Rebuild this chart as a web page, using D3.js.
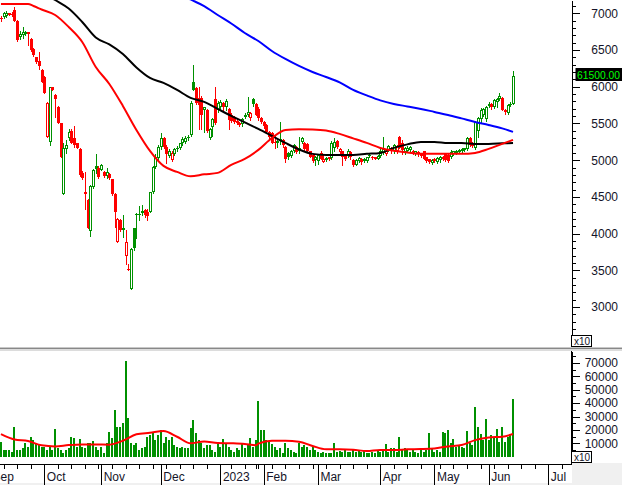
<!DOCTYPE html>
<html><head><meta charset="utf-8">
<script src="https://cdn.jsdelivr.net/npm/d3@7"></script>
<style>
html,body{margin:0;padding:0;background:#fff;}
svg{display:block;font-family:"Liberation Sans",Arial,sans-serif;}
</style></head><body>
<svg id="chart" width="622" height="485"></svg>
<script>
// ---------- categories ----------
const calendarStart = "2022-09-05";          // first trading day of the Sep label (index -4)
const firstIndexOffset = -4;                 // candle 0 = 2022-09-09
const holidays = ["2023-01-02","2023-01-20","2023-01-23","2023-01-24","2023-01-25","2023-01-26","2023-05-01","2023-05-02","2023-05-03"];
const monthNames = ["Sep","Oct","Nov","Dec","2023","Feb","Mar","Apr","May","Jun","Jul"];

// ---------- price series (x10) ----------
const open = [6930,6950,6960,6980,6970,7040,6900,6680,6700,6720,6740,6650,6520,6400,6350,6230,6130,5320,5250,5990,
5890,5720,5500,4540,5150,5300,5400,5300,5230,5150,4820,4560,4460,4030,4640,4920,4900,4870,4840,4780,
4810,4740,4540,3890,4190,4050,3700,3520,3250,4070,4270,4250,4280,4320,4300,4300,4560,4910,5030,5180,
5300,5180,5060,5000,5090,5150,5170,5230,5250,5300,5340,6060,5980,5850,5850,5680,5690,5300,5450,5830,
5680,5730,5780,5720,5700,5620,5590,5530,5510,5490,5590,5620,5570,5830,5760,5700,5580,5520,5480,5390,
5370,5250,5230,5260,5280,5180,5100,5060,5130,5180,5120,5250,5240,5220,5120,5070,5000,4990,5100,4980,
5000,5040,5030,5170,5260,5110,5120,5060,5060,5110,5000,4940,4990,5020,4990,4990,5060,5040,5040,5020,
5060,5100,5080,5140,5170,5120,5120,5320,5230,5110,5130,5140,5130,5080,5110,5080,5120,5040,5010,4960,
5010,4970,5000,5050,5090,5070,5040,5080,5100,5110,5120,5140,5150,5300,5240,5170,5400,5560,5620,5560,
5740,5760,5720,5790,5830,5850,5690,5640,5750,5770];
const high = [6960,7020,7030,7010,7020,7090,6910,6760,6810,6760,6750,6660,6530,6410,6470,6240,6140,5790,6000,6000,
5900,5740,5510,5230,5280,5420,5420,5460,5240,5170,4850,4840,4470,4660,4880,5080,4920,4950,4850,4900,
4830,4750,4550,4210,4200,4260,4050,3590,3800,4080,4280,4380,4390,4330,4340,4570,4920,5080,5200,5370,
5310,5200,5150,5120,5170,5190,5240,5310,5330,5340,5800,6300,6000,5990,5870,5730,5700,5440,5570,5990,
5800,5820,5790,5830,5710,5640,5600,5560,5520,5580,5640,5860,5660,5840,5780,5720,5590,5530,5490,5400,
5380,5340,5280,5520,5290,5190,5110,5140,5220,5190,5320,5320,5250,5230,5130,5080,5060,5080,5120,5090,
5050,5050,5260,5300,5270,5170,5130,5080,5150,5120,5010,5010,5040,5030,5030,5050,5090,5060,5050,5070,
5150,5310,5150,5210,5180,5220,5200,5330,5280,5180,5190,5190,5140,5130,5120,5090,5130,5050,5020,5010,
5030,5040,5060,5060,5100,5080,5140,5130,5140,5150,5160,5170,5310,5310,5250,5530,5590,5710,5710,5740,
5790,5780,5830,5850,5920,5860,5700,5760,5790,6210];
const low = [6890,6940,6950,6970,6960,6890,6620,6650,6670,6700,6570,6490,6420,6330,6240,6060,5910,5310,5200,5950,
5590,5500,5040,4540,5100,5280,5230,5180,5160,4790,4740,4330,4070,3970,4620,4820,4760,4860,4770,4760,
4750,4530,4090,3880,4040,3960,3580,3500,3240,3780,3940,4180,4260,4230,4190,4290,4550,4900,5000,5150,
5170,4960,5040,4990,5070,5130,5150,5210,5230,5280,5330,5950,5760,5420,5420,5380,5380,5290,5330,5490,
5650,5700,5680,5690,5420,5520,5500,5490,5470,5470,5570,5600,5550,5740,5610,5550,5510,5440,5370,5300,
5230,5170,5180,5220,5180,4980,5020,5050,5110,5100,5100,5240,5130,5110,5040,4980,4930,4950,5010,4970,
4990,5000,5010,5130,5170,5100,4930,5000,5040,5020,4920,4930,4970,4950,4980,4980,5040,5020,5010,5010,
5050,5080,5070,5120,5100,5100,5100,5160,5080,5090,5110,5120,5090,5070,5060,5050,5010,4970,4960,4950,
4980,4960,4970,5000,4990,4980,5030,5070,5090,5100,5110,5130,5140,5190,5180,5150,5320,5520,5600,5540,
5730,5700,5710,5720,5820,5680,5630,5630,5740,5760];
const close = [6920,7000,7010,7000,6990,6900,6630,6720,6740,6750,6720,6500,6430,6340,6280,6070,5920,5780,5990,5960,
5830,5510,5050,5160,5200,5380,5240,5200,5170,4800,4760,4540,4080,4650,4860,4880,4770,4930,4780,4840,
4760,4540,4300,4200,4050,4080,3880,3510,3790,3800,4250,4270,4310,4250,4240,4560,4910,5050,5180,5300,
5180,5080,5130,5100,5150,5170,5230,5290,5300,5320,5780,5960,5780,5750,5620,5720,5400,5420,5560,5510,
5780,5790,5720,5800,5550,5540,5520,5500,5480,5560,5620,5650,5640,5760,5620,5570,5520,5460,5380,5320,
5240,5230,5260,5290,5200,5010,5040,5120,5200,5110,5160,5300,5150,5120,5050,4990,5040,5070,5020,5010,
5030,5010,5230,5250,5180,5150,5040,5020,5130,5040,4930,5000,5030,4980,5020,5040,5070,5030,5020,5060,
5130,5150,5130,5190,5120,5200,5190,5170,5140,5160,5170,5180,5110,5120,5080,5060,5020,4990,4980,5000,
4990,5030,5050,5010,5000,4990,5110,5120,5130,5140,5150,5160,5300,5200,5190,5520,5570,5690,5700,5730,
5770,5730,5820,5830,5870,5690,5650,5750,5770,6150];

const maRedIdx = [0,5,10,12,15,20,25,30,35,40,45,50,55,60,65,70,75,80,85,90,95,100,105,110,115,120,125,130,135,140,145,150,155,160,165,170,175,180,185,189];
const maRed = [7127,7127,7127,7100,7052,6977,6814,6610,6269,6038,5739,5412,5127,4922,4840,4780,4807,4827,4936,5018,5140,5303,5412,5422,5419,5405,5358,5297,5235,5167,5127,5106,5086,5086,5086,5086,5099,5154,5222,5276];
const maBlackIdx = [15,20,25,30,35,40,45,50,55,60,65,70,75,80,85,90,95,100,105,110,115,120,125,130,135,140,145,150,155,160,165,170,175,180,185,189];
const maBlack = [7290,7181,7065,6882,6671,6576,6446,6263,6120,6052,5957,5848,5793,5698,5603,5514,5426,5331,5235,5147,5086,5072,5072,5072,5086,5099,5167,5215,5249,5249,5235,5235,5222,5222,5229,5235];
const maBlueIdx = [65,70,75,80,85,90,95,100,105,110,115,120,125,130,135,140,145,150,155,160,165,170,175,180,185,189];
const maBlue = [7290,7188,7099,6977,6861,6732,6623,6487,6378,6283,6201,6133,6059,5956,5882,5814,5766,5732,5698,5657,5616,5569,5521,5480,5433,5385];

// ---------- volume (x10) ----------
const volume = [11200,5000,5000,5000,3700,22400,5000,5000,6200,10000,
7500,14900,12400,10000,8700,7500,7500,5000,7500,5000,
20400,6200,5000,2500,5000,6200,14900,13700,7500,12900,
7500,6200,10000,10000,11700,7500,5000,7500,2500,10000,
18700,13700,34800,22400,22400,25400,71400,28600,10000,8700,
10000,5000,6200,7500,14900,16200,17400,12400,16200,19900,
10000,14900,12400,14900,8700,7500,6200,7500,6200,6200,
21100,27400,17400,12400,10000,6200,8700,8700,5000,3700,
10000,7500,12900,10000,7500,5000,3700,6200,5000,10000,
6200,8700,13700,7500,12400,41600,19900,19900,12400,11200,
9500,7500,5000,6200,2500,10000,6200,5000,3700,2500,
10000,7500,8700,7500,5000,
7000,5000,3700,2500,3700,2500,3000,2500,10000,3700,
4500,3700,5000,3700,3700,5000,3700,4200,3700,4200,
3000,2500,3700,2500,5000,3700,4500,9500,3700,6200,
6200,3700,14900,5000,6200,5000,3700,5000,3700,2500,
5000,3700,5000,17400,6200,3700,5000,3700,18700,17400,
19900,10000,13200,7500,8700,7500,6200,19400,10000,8700,
37300,22400,16900,12400,28100,12400,16200,13700,20400,11200,
21900,10700,14900,16700,42800];
const volMaIdx = [0,5,10,15,20,25,30,35,40,45,50,55,60,65,70,75,80,85,90,94,95,100,105,110,115,120,125,130,135,140,145,150,155,160,165,170,175,180,185,189];
const volMa = [16900,12900,11700,8500,7700,8700,9200,9200,9000,11900,16700,17900,19200,14900,10000,11400,10200,10000,9500,8500,9700,11900,11900,11200,8000,5500,5500,5200,4200,5000,5000,5500,5700,6200,7700,8700,12400,14400,14900,16900];

// ---------- tick labels ----------
const priceTicks = [3000,3500,4000,4500,5000,5500,6000,6500,7000];
const volTicks = [10000,20000,30000,40000,50000,60000,70000];

// ================= drawing =================
const GREEN = "#009000", RED = "#ff0000";
const FONT = '"Liberation Sans",Arial,sans-serif';
const svg = d3.select("#chart");
const PW = 571.5;                // plot right edge (axis line)
const x = d3.scaleLinear().domain([-0.35, 210.4]).range([0, 571]);
const yP = d3.scaleLinear().domain([2470, 7181]).range([346, 0]);
const yV = d3.scaleLinear().domain([0, 78900]).range([456.7, 351]);

// trading calendar
const tradingDays = [];
{
  const d = new Date(calendarStart + "T00:00:00Z");
  while (tradingDays.length < 225) {
    const wd = d.getUTCDay();
    const iso = d.toISOString().slice(0, 10);
    if (wd !== 0 && wd !== 6 && !holidays.includes(iso)) tradingDays.push(new Date(d.getTime()));
    d.setUTCDate(d.getUTCDate() + 1);
  }
}
const monthStarts = [], weekStarts = [];
const weekNo = t => Math.floor((t.getTime() / 86400000 + 3) / 7);
tradingDays.forEach((t, k) => {
  const idx = k + firstIndexOffset;
  if (k === 0 || t.getUTCMonth() !== tradingDays[k - 1].getUTCMonth()) monthStarts.push(idx);
  else if (weekNo(t) !== weekNo(tradingDays[k - 1])) weekStarts.push(idx);
});
const inDomain = i => x(i) >= -20 && x(i) <= 572;

// backgrounds
svg.append("rect").attr("x", 0).attr("y", 0).attr("width", 622).attr("height", 485).attr("fill", "#fff");
svg.append("rect").attr("x", 0).attr("y", 483).attr("width", 622).attr("height", 2).attr("fill", "#f0f0f0");
svg.append("rect").attr("x", 572).attr("y", 463).attr("width", 50).attr("height", 22).attr("fill", "#f0f0f0");

// panel separator
svg.append("rect").attr("x", 0).attr("y", 347).attr("width", 622).attr("height", 1).attr("fill", "#c8c8c8");
svg.append("rect").attr("x", 0).attr("y", 348).attr("width", 622).attr("height", 1).attr("fill", "#888");
svg.append("rect").attr("x", 0).attr("y", 349).attr("width", 622).attr("height", 2).attr("fill", "#dcdcdc");

// clips
const defs = svg.append("defs");
defs.append("clipPath").attr("id", "cp").append("rect").attr("x", 0).attr("y", 0).attr("width", 571).attr("height", 346);
defs.append("clipPath").attr("id", "cv").append("rect").attr("x", 0).attr("y", 351).attr("width", 571).attr("height", 112);

// ---- candles ----
const gC = svg.append("g").attr("clip-path", "url(#cp)").attr("shape-rendering", "crispEdges");
close.forEach((c, i) => {
  const o = open[i], h = high[i], l = low[i];
  const prev = i === 0 ? o : close[i - 1];
  const col = c >= prev ? GREEN : RED;
  const cx = Math.round(x(i));
  const yO = Math.round(yP(o)), yCl = Math.round(yP(c)), yH = Math.round(yP(h)), yL = Math.round(yP(l));
  const top = Math.min(yO, yCl), bot = Math.max(yO, yCl);
  if (c > o && bot - top >= 2) {
    gC.append("line").attr("x1", cx + 0.5).attr("x2", cx + 0.5).attr("y1", yH).attr("y2", top).attr("stroke", col);
    gC.append("line").attr("x1", cx + 0.5).attr("x2", cx + 0.5).attr("y1", bot).attr("y2", yL + 1).attr("stroke", col);
    gC.append("rect").attr("x", cx - 0.5).attr("y", top + 0.5).attr("width", 2).attr("height", bot - top - 1)
      .attr("fill", "none").attr("stroke", col);
  } else {
    gC.append("line").attr("x1", cx + 0.5).attr("x2", cx + 0.5).attr("y1", yH).attr("y2", yL + 1).attr("stroke", col);
    gC.append("rect").attr("x", cx - 1).attr("y", top).attr("width", 3).attr("height", Math.max(bot - top, 1)).attr("fill", col);
  }
});

// ---- moving averages ----
const gM = svg.append("g").attr("clip-path", "url(#cp)");
const maLine = d3.line().x(d => x(d[0])).y(d => yP(d[1])).curve(d3.curveMonotoneX);
[[maBlueIdx, maBlue, "#0000ff"], [maBlackIdx, maBlack, "#000"], [maRedIdx, maRed, RED]].forEach(([ix, v, col]) => {
  gM.append("path").attr("d", maLine(ix.map((k, j) => [k, v[j]]))).attr("fill", "none").attr("stroke", col).attr("stroke-width", 2);
});

// ---- volume ----
const gV = svg.append("g").attr("clip-path", "url(#cv)").attr("shape-rendering", "crispEdges");
volume.forEach((v, i) => {
  const cx = Math.round(x(i));
  const yt = Math.round(yV(v));
  gV.append("rect").attr("x", cx - 1).attr("y", yt).attr("width", 2).attr("height", Math.round(yV(0)) - yt).attr("fill", GREEN);
});
const vLine = d3.line().x(d => x(d[0])).y(d => yV(d[1])).curve(d3.curveMonotoneX);
svg.append("path").attr("clip-path", "url(#cv)").attr("d", vLine(volMaIdx.map((k, j) => [k, volMa[j]])))
  .attr("fill", "none").attr("stroke", RED).attr("stroke-width", 2);

// ---- price axis ----
const styleAxis = g => { g.selectAll("line,path").attr("stroke", "#000").attr("shape-rendering", "crispEdges"); };
const styleLabels = g => g.selectAll("text").attr("x", 46.5).attr("text-anchor", "end").attr("font-size", 12)
    .attr("font-family", FONT).attr("fill", "#141428");
svg.append("g").attr("transform", `translate(${PW},0)`)
  .call(d3.axisRight(yP).tickValues(d3.range(2500, 7200, 100)).tickSize(4).tickSizeOuter(0).tickFormat(""))
  .call(styleAxis);
svg.append("g").attr("transform", `translate(${PW},0)`)
  .call(d3.axisRight(yP).tickValues(priceTicks).tickSize(8).tickSizeOuter(0).tickFormat(d3.format("d")))
  .call(styleAxis).call(styleLabels);

// last price label
const lastY = Math.round(yP(close[close.length - 1]));
svg.append("rect").attr("x", 575.5).attr("y", lastY - 8).attr("width", 47).attr("height", 13).attr("fill", "#000");
svg.append("text").attr("x", 577).attr("y", lastY + 2.5).attr("font-size", 11).attr("fill", "#00ff00")
  .attr("textLength", 43).attr("lengthAdjust", "spacingAndGlyphs")
  .text(d3.format(".2f")(close[close.length - 1] * 10));

// x10 boxes
function x10(yTop) {
  svg.append("rect").attr("x", 571.5).attr("y", yTop + 0.5).attr("width", 20).attr("height", 11)
    .attr("fill", "#fff").attr("stroke", "#000").attr("shape-rendering", "crispEdges");
  svg.append("text").attr("x", 574).attr("y", yTop + 9.5).attr("font-size", 10).attr("fill", "#141428").text("x10");
}
x10(335);

// ---- volume axis ----
svg.append("line").attr("x1", PW).attr("x2", PW).attr("y1", 351).attr("y2", 464).attr("stroke", "#000").attr("shape-rendering", "crispEdges");
svg.append("g").attr("transform", `translate(${PW},0)`)
  .call(d3.axisRight(yV).tickValues(d3.range(5000, 80000, 5000)).tickSize(4).tickSizeOuter(0).tickFormat(""))
  .call(styleAxis);
svg.append("g").attr("transform", `translate(${PW},0)`)
  .call(d3.axisRight(yV).tickValues(volTicks).tickSize(8).tickSizeOuter(0).tickFormat(d3.format("d")))
  .call(styleAxis).call(styleLabels);
x10(451);

// ---- date axis ----
const gX = svg.append("g").attr("transform", "translate(0,464.5)");
gX.append("line").attr("x1", 0).attr("x2", 571.5).attr("y1", 0).attr("y2", 0).attr("stroke", "#000").attr("shape-rendering", "crispEdges");
gX.append("g").call(d3.axisBottom(x).tickValues(weekStarts.filter(inDomain)).tickSize(4).tickSizeOuter(0).tickFormat(""))
  .call(g => g.select(".domain").remove()).call(styleAxis);
const mVis = monthStarts.map((m, k) => ({ m, label: monthNames[k] })).filter(d => inDomain(d.m));
gX.append("g").call(d3.axisBottom(x).tickValues(mVis.map(d => d.m)).tickSize(21).tickSizeOuter(0)
    .tickFormat((d, k) => mVis[k].label))
  .call(g => g.select(".domain").remove()).call(styleAxis)
  .call(g => g.selectAll("text").attr("text-anchor", "start").attr("x", 2).attr("y", 16.5).attr("dy", 0)
    .attr("font-size", 12).attr("font-family", FONT).attr("fill", "#141428"));
</script>
</body></html>
